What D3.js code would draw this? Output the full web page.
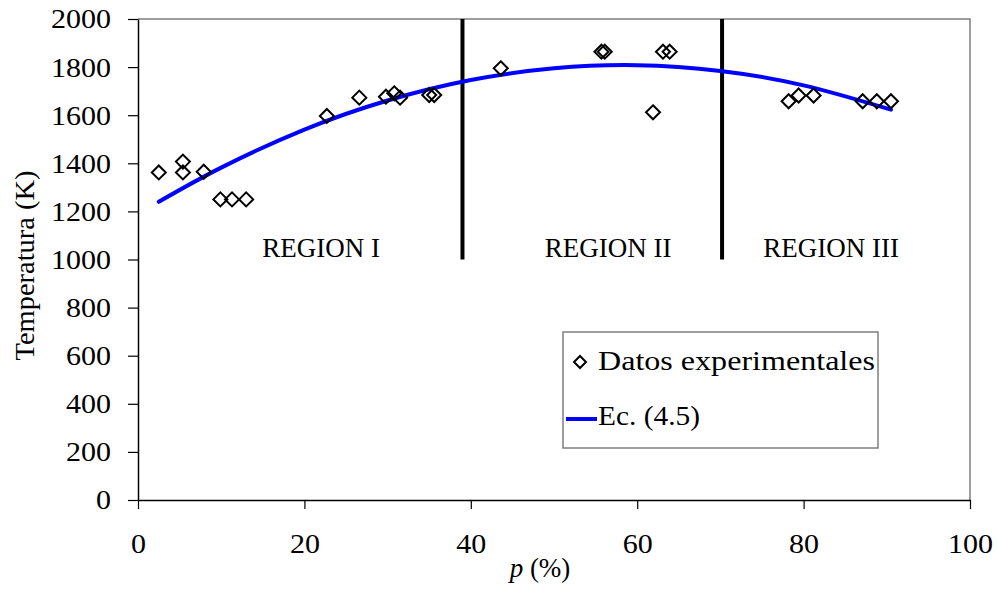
<!DOCTYPE html>
<html>
<head>
<meta charset="utf-8">
<script src="https://cdn.jsdelivr.net/npm/d3@7"></script>
<style>
  html, body { margin: 0; padding: 0; background: #fff; }
  svg { display: block; }
  text { font-family: "Liberation Serif", "DejaVu Serif", serif; fill: #000; }
</style>
</head>
<body>
<svg id="chart" width="998" height="592"></svg>
<script>
// Experimental measurements: p (%) and temperature (K)
const pData = [2.5, 5.4, 5.4, 7.9, 9.9, 11.3, 13.0, 22.7, 26.6, 29.8, 30.8, 31.5, 35.0, 35.6,
               43.6, 55.7, 56.1, 61.9, 63.1, 63.9, 78.2, 79.4, 81.2, 87.1, 88.8, 90.5];
const tData = [1362, 1407, 1362, 1365, 1250, 1250, 1250, 1597, 1673, 1677, 1691, 1673, 1684, 1684,
               1795, 1864, 1864, 1612, 1864, 1864, 1658, 1682, 1682, 1658, 1658, 1658];

// Ec. (4.5) evaluated along p
const pFit = [2.5, 10, 20, 30, 40, 50, 60, 70, 80, 90.5];
const tFit = [1240, 1382, 1540, 1661, 1746, 1795, 1808, 1784, 1724, 1623];

// Region boundaries and labels
const regionBounds = [39.0, 70.2];
const regionLabels = ["REGION I", "REGION II", "REGION III"];
const regionCenters = [22.0, 56.5, 83.3];
const regionTop = 2000, regionBottom = 1000, regionLabelT = 1010;

const xTicks = [0, 20, 40, 60, 80, 100];
const yTicks = [0, 200, 400, 600, 800, 1000, 1200, 1400, 1600, 1800, 2000];
const legendLabels = ["Datos experimentales", "Ec. (4.5)"];

const svg = d3.select("#chart");
const x = d3.scaleLinear().domain([0, 100]).range([138, 970]);
const y = d3.scaleLinear().domain([0, 2000]).range([500, 19]);
const FS = 27;

// plot frame (grey top/right edges)
svg.append("path")
  .attr("d", `M${x(0)},${y(2000)}H${x(100)}V${y(0)}`)
  .attr("fill", "none").attr("stroke", "#7f7f7f").attr("stroke-width", 1.5);

// y axis
const gy = svg.append("g").attr("transform", `translate(${x(0)},0)`)
  .call(d3.axisLeft(y).tickValues(yTicks).tickFormat(d3.format("d"))
    .tickSize(10).tickSizeOuter(0).tickPadding(17));
gy.attr("font-family", null);
gy.select(".domain").attr("stroke", "#000").attr("stroke-width", 1.5);
gy.selectAll(".tick line").attr("stroke", "#000").attr("stroke-width", 1.2);
gy.selectAll(".tick text").attr("font-size", FS).attr("dy", "0.33em")
  .attr("textLength", d => String(d).length * 15).attr("lengthAdjust", "spacingAndGlyphs");

// x axis
const gx = svg.append("g").attr("transform", `translate(0,${y(0)})`)
  .call(d3.axisBottom(x).tickValues(xTicks).tickFormat(d3.format("d"))
    .tickSize(9).tickSizeOuter(0));
gx.attr("font-family", null);
gx.select(".domain").attr("stroke", "#000").attr("stroke-width", 1.5);
gx.selectAll(".tick line").attr("stroke", "#000").attr("stroke-width", 1.2);
gx.selectAll(".tick text").attr("font-size", FS).attr("y", 53).attr("dy", 0)
  .attr("textLength", d => String(d).length * 15).attr("lengthAdjust", "spacingAndGlyphs");

// axis titles
svg.append("text")
  .attr("transform", `translate(34,${(y(0) + y(2000)) / 2 + 6}) rotate(-90)`)
  .attr("text-anchor", "middle").attr("font-size", FS)
  .attr("textLength", 190).attr("lengthAdjust", "spacingAndGlyphs")
  .text("Temperatura (K)");

const xt = svg.append("text")
  .attr("x", 540).attr("y", 577).attr("text-anchor", "middle").attr("font-size", FS);
xt.append("tspan").attr("font-style", "italic").text("p");
xt.append("tspan").text(" (%)");

// region separators
svg.selectAll("line.region").data(regionBounds).join("line")
  .attr("class", "region")
  .attr("x1", d => x(d)).attr("x2", d => x(d))
  .attr("y1", y(regionTop)).attr("y2", y(regionBottom))
  .attr("stroke", "#000").attr("stroke-width", 4);

svg.selectAll("text.region").data(regionLabels).join("text")
  .attr("class", "region")
  .attr("x", (d, i) => x(regionCenters[i])).attr("y", y(regionLabelT))
  .attr("text-anchor", "middle").attr("font-size", FS)
  .text(d => d);

// fitted curve
const fit = pFit.map((p, i) => [p, tFit[i]]);
svg.append("path")
  .datum(fit)
  .attr("d", d3.line().x(d => x(d[0])).y(d => y(d[1])).curve(d3.curveNatural))
  .attr("fill", "none").attr("stroke", "#0000ff").attr("stroke-width", 4)
  .attr("stroke-linecap", "round");

// experimental points as open diamonds
const diamond = (cx, cy, r) => `M${cx},${cy - r}L${cx + r},${cy}L${cx},${cy + r}L${cx - r},${cy}Z`;
svg.selectAll("path.pt").data(pData.map((p, i) => [p, tData[i]])).join("path")
  .attr("class", "pt")
  .attr("d", d => diamond(x(d[0]), y(d[1]), 7))
  .attr("fill", "none").attr("stroke", "#000").attr("stroke-width", 2);

// legend
const lg = svg.append("g");
lg.append("rect").attr("x", 563).attr("y", 332).attr("width", 315).attr("height", 116)
  .attr("fill", "#fff").attr("stroke", "#7f7f7f").attr("stroke-width", 1.5);
lg.append("path").attr("d", diamond(580, 362, 6))
  .attr("fill", "none").attr("stroke", "#000").attr("stroke-width", 2);
lg.append("text").attr("x", 598).attr("y", 370).attr("font-size", FS)
  .attr("textLength", 277).attr("lengthAdjust", "spacingAndGlyphs").text(legendLabels[0]);
lg.append("line").attr("x1", 566).attr("x2", 597).attr("y1", 419).attr("y2", 419)
  .attr("stroke", "#0000ff").attr("stroke-width", 4);
lg.append("text").attr("x", 598).attr("y", 425).attr("font-size", FS)
  .attr("textLength", 102).attr("lengthAdjust", "spacingAndGlyphs").text(legendLabels[1]);
</script>
</body>
</html>
